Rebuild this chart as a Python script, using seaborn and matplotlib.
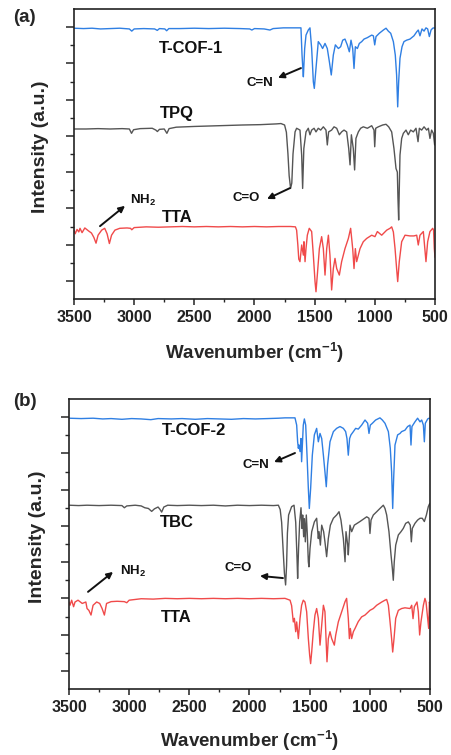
import numpy as np
import pandas as pd
import matplotlib
matplotlib.use("Agg")
import matplotlib.pyplot as plt
import seaborn as sns

# ---------------- data (wavenumber cm-1, offset intensity a.u.) ----------------
a_tcof1 = [(3500, 7.47), (3420, 7.46), (3350, 7.47), (3280, 7.45), (3200, 7.46), (3120, 7.47),
           (3040, 7.45), (3020, 7.39), (3000, 7.45), (2920, 7.46), (2830, 7.45), (2808, 7.41),
           (2790, 7.46), (2745, 7.45), (2730, 7.40), (2712, 7.46), (2620, 7.46), (2500, 7.47),
           (2380, 7.46), (2250, 7.47), (2120, 7.46), (2040, 7.45), (2022, 7.42), (2000, 7.46),
           (1920, 7.45), (1872, 7.42), (1845, 7.46), (1760, 7.48), (1705, 7.48), (1614, 7.48),
           (1605, 6.73), (1600, 6.45), (1594, 6.13), (1583, 6.91), (1572, 7.28), (1553, 7.42),
           (1539, 7.48), (1525, 6.91), (1511, 5.99), (1503, 5.81), (1489, 6.36), (1470, 7.10),
           (1450, 7.01), (1434, 6.91), (1414, 7.05), (1395, 6.91), (1378, 6.55), (1362, 6.18),
           (1345, 6.73), (1328, 7.01), (1303, 6.91), (1284, 6.96), (1267, 7.14), (1248, 7.17),
           (1229, 7.01), (1212, 6.82), (1198, 7.14), (1184, 6.91), (1173, 6.36), (1162, 6.96),
           (1145, 6.91), (1129, 7.05), (1109, 7.10), (1090, 7.17), (1062, 7.21), (1026, 7.28),
           (1012, 7.26), (1001, 7.01), (990, 7.24), (963, 7.33), (929, 7.42), (907, 7.47),
           (888, 7.39), (868, 7.33), (846, 7.10), (830, 6.73), (819, 6.18), (810, 5.30),
           (802, 5.99), (791, 6.64), (774, 6.96), (758, 7.10), (736, 7.14), (708, 7.17),
           (675, 7.26), (652, 7.37), (639, 7.42), (625, 7.26), (608, 7.45), (591, 7.39),
           (575, 7.48), (561, 7.45), (547, 7.24), (533, 7.42), (519, 7.47), (508, 7.48), (500, 7.47)]

a_tpq = [(3500, 4.69), (3400, 4.69), (3300, 4.70), (3200, 4.69), (3100, 4.70), (3040, 4.69),
         (3022, 4.57), (3005, 4.67), (2950, 4.70), (2850, 4.71), (2820, 4.66), (2807, 4.62),
         (2790, 4.68), (2750, 4.69), (2728, 4.57), (2710, 4.70), (2650, 4.74), (2500, 4.76),
         (2300, 4.78), (2100, 4.80), (1950, 4.81), (1820, 4.83), (1780, 4.84), (1750, 4.80),
         (1735, 4.60), (1722, 4.00), (1712, 3.40), (1700, 3.05), (1690, 3.20), (1680, 4.00),
         (1663, 4.61), (1650, 4.71), (1622, 4.66), (1608, 3.97), (1600, 3.05), (1590, 4.15),
         (1572, 4.61), (1553, 4.71), (1539, 4.53), (1525, 4.66), (1505, 4.71), (1489, 4.61),
         (1470, 4.71), (1450, 4.66), (1428, 4.75), (1406, 4.66), (1395, 4.25), (1384, 4.61),
         (1359, 4.66), (1339, 4.75), (1317, 4.71), (1295, 4.53), (1276, 4.61), (1256, 4.66),
         (1234, 4.61), (1217, 4.15), (1206, 3.70), (1195, 4.53), (1179, 4.15), (1168, 3.56),
         (1157, 4.43), (1137, 4.61), (1118, 4.71), (1096, 4.75), (1062, 4.71), (1026, 4.78),
         (1007, 4.66), (1001, 4.20), (993, 4.71), (971, 4.75), (935, 4.80), (907, 4.82),
         (885, 4.75), (860, 4.61), (841, 4.15), (824, 3.60), (813, 3.50), (808, 2.80),
         (802, 2.18), (797, 3.00), (791, 3.97), (777, 4.43), (763, 4.57), (741, 4.66),
         (722, 4.53), (702, 4.66), (680, 4.61), (658, 4.71), (641, 4.34), (630, 4.71),
         (611, 4.66), (591, 4.75), (569, 4.66), (555, 4.71), (542, 4.43), (528, 4.66),
         (514, 4.57), (503, 4.25), (500, 4.30)]

a_tta = [(3500, 1.90), (3490, 1.80), (3475, 1.92), (3460, 1.85), (3450, 1.95), (3433, 1.83),
         (3410, 1.96), (3380, 1.88), (3355, 1.82), (3335, 1.70), (3317, 1.54), (3300, 1.76),
         (3270, 1.90), (3245, 1.95), (3225, 1.80), (3206, 1.53), (3188, 1.76), (3160, 1.90),
         (3120, 1.95), (3060, 1.96), (3030, 1.95), (3020, 1.91), (3000, 1.97), (2900, 1.99),
         (2800, 1.98), (2700, 1.99), (2600, 2.00), (2500, 1.99), (2400, 2.00), (2300, 1.99),
         (2200, 2.00), (2100, 1.99), (2000, 2.00), (1900, 1.99), (1800, 2.00), (1700, 2.00),
         (1660, 1.99), (1650, 1.90), (1640, 1.50), (1632, 1.10), (1622, 1.03), (1608, 1.49),
         (1594, 1.21), (1589, 1.58), (1580, 1.03), (1572, 1.39), (1561, 1.76), (1545, 1.95),
         (1525, 1.86), (1511, 1.21), (1497, 0.48), (1489, 0.20), (1478, 0.66), (1461, 1.39),
         (1442, 1.72), (1428, 1.39), (1414, 0.66), (1400, 1.39), (1386, 1.76), (1373, 1.21),
         (1359, 0.25), (1345, 0.84), (1331, 1.12), (1317, 0.84), (1295, 0.66), (1276, 1.03),
         (1248, 1.39), (1220, 1.67), (1201, 1.95), (1184, 1.39), (1173, 0.84), (1162, 1.39),
         (1151, 1.03), (1137, 1.21), (1123, 1.39), (1096, 1.58), (1068, 1.67), (1026, 1.76),
         (999, 1.72), (979, 1.86), (943, 1.76), (901, 1.90), (874, 1.95), (860, 1.99),
         (846, 1.85), (832, 1.39), (819, 0.84), (810, 0.48), (797, 1.03), (777, 1.58),
         (749, 1.76), (708, 1.74), (675, 1.74), (652, 1.76), (639, 1.49), (625, 1.76),
         (597, 1.86), (575, 1.03), (561, 1.58), (542, 1.86), (519, 1.95), (512, 1.90),
         (506, 1.40), (500, 1.15)]

b_tcof2 = [(3500, 7.47), (3400, 7.46), (3300, 7.47), (3220, 7.45), (3150, 7.46), (3060, 7.44),
           (2980, 7.46), (2900, 7.45), (2820, 7.43), (2760, 7.46), (2650, 7.45), (2560, 7.46),
           (2450, 7.44), (2350, 7.46), (2250, 7.45), (2150, 7.44), (2050, 7.46), (1950, 7.45),
           (1850, 7.46), (1760, 7.47), (1705, 7.48), (1622, 7.48), (1608, 7.28), (1600, 6.82),
           (1594, 6.64), (1589, 6.73), (1580, 6.55), (1572, 6.91), (1567, 6.27), (1553, 7.28),
           (1544, 7.45), (1533, 7.28), (1522, 6.45), (1511, 5.53), (1503, 4.98), (1492, 5.53),
           (1478, 6.45), (1461, 7.01), (1442, 7.19), (1428, 6.82), (1414, 7.05), (1400, 6.91),
           (1386, 6.45), (1373, 5.99), (1362, 5.58), (1351, 6.18), (1331, 6.82), (1303, 7.10),
           (1276, 7.19), (1248, 7.24), (1220, 7.19), (1201, 7.10), (1190, 6.91), (1179, 6.45),
           (1168, 6.91), (1157, 7.01), (1137, 7.10), (1118, 7.19), (1096, 7.17), (1068, 7.28),
           (1040, 7.42), (1018, 7.33), (1007, 7.05), (996, 7.28), (979, 7.33), (952, 7.42),
           (916, 7.48), (896, 7.42), (874, 7.33), (846, 7.10), (830, 6.64), (819, 5.99),
           (810, 4.98), (802, 5.81), (791, 6.73), (769, 7.01), (749, 7.05), (736, 7.10),
           (708, 7.14), (686, 7.24), (666, 7.28), (658, 6.73), (650, 7.24), (625, 7.37),
           (603, 7.47), (583, 7.37), (569, 7.42), (555, 7.28), (547, 6.82), (539, 7.33),
           (519, 7.45), (508, 7.47), (500, 7.46)]

b_tbc = [(3500, 5.07), (3420, 5.06), (3350, 5.07), (3250, 5.06), (3150, 5.07), (3060, 5.06),
         (3040, 5.00), (3020, 5.05), (2950, 5.07), (2900, 5.05), (2870, 5.00), (2840, 4.98),
         (2813, 4.90), (2790, 4.97), (2760, 5.02), (2745, 4.96), (2730, 4.88), (2712, 5.02),
         (2680, 5.07), (2600, 5.06), (2500, 5.07), (2400, 5.06), (2300, 5.07), (2200, 5.05),
         (2100, 5.07), (2000, 5.06), (1900, 5.07), (1800, 5.06), (1760, 5.07), (1745, 4.95),
         (1733, 4.60), (1720, 3.80), (1710, 3.20), (1700, 2.87), (1692, 3.40), (1685, 4.30),
         (1675, 4.80), (1650, 5.03), (1630, 5.07), (1616, 4.60), (1605, 3.60), (1600, 3.05),
         (1592, 3.90), (1583, 4.61), (1572, 5.00), (1564, 4.43), (1558, 4.80), (1550, 4.20),
         (1544, 4.70), (1536, 4.06), (1528, 4.80), (1520, 4.30), (1511, 3.51), (1506, 3.37),
         (1497, 3.88), (1483, 4.34), (1461, 4.61), (1442, 4.71), (1428, 4.15), (1422, 4.34),
         (1411, 3.97), (1400, 4.52), (1384, 4.34), (1373, 4.06), (1359, 3.65), (1345, 4.15),
         (1328, 4.52), (1303, 4.71), (1276, 4.80), (1256, 4.89), (1240, 4.66), (1220, 4.15),
         (1206, 3.51), (1198, 4.34), (1184, 3.97), (1179, 3.70), (1165, 4.52), (1151, 4.34),
         (1129, 4.52), (1082, 4.62), (1026, 4.75), (1007, 4.71), (999, 4.29), (990, 4.66),
         (971, 4.80), (943, 4.89), (916, 4.98), (888, 5.07), (874, 4.98), (860, 4.80),
         (841, 4.34), (824, 3.70), (813, 3.33), (805, 3.00), (797, 3.51), (785, 3.97),
         (763, 4.25), (741, 4.34), (722, 4.43), (702, 4.57), (680, 4.61), (664, 4.52),
         (655, 4.06), (647, 4.43), (625, 4.57), (603, 4.66), (583, 4.71), (564, 4.71),
         (547, 4.62), (530, 4.80), (514, 5.03), (505, 5.10), (500, 5.12)]

b_tta = [(3500, 2.40), (3492, 2.31), (3478, 2.45), (3462, 2.27), (3450, 2.40), (3425, 2.45),
         (3390, 2.36), (3360, 2.40), (3350, 2.22), (3335, 2.17), (3317, 2.04), (3300, 2.31),
         (3270, 2.40), (3245, 2.36), (3225, 2.22), (3206, 2.04), (3188, 2.36), (3150, 2.41),
         (3100, 2.42), (3040, 2.41), (3020, 2.38), (3000, 2.45), (2900, 2.49), (2800, 2.48),
         (2700, 2.50), (2600, 2.49), (2500, 2.50), (2400, 2.49), (2300, 2.50), (2200, 2.49),
         (2100, 2.50), (2000, 2.49), (1900, 2.50), (1800, 2.49), (1705, 2.50), (1663, 2.45),
         (1650, 2.30), (1636, 1.85), (1627, 1.95), (1616, 1.58), (1608, 1.85), (1594, 1.39),
         (1580, 1.95), (1567, 2.31), (1553, 2.45), (1539, 2.40), (1525, 2.13), (1511, 1.39),
         (1500, 0.93), (1492, 0.70), (1483, 1.03), (1470, 1.58), (1456, 2.04), (1442, 2.22),
         (1428, 1.95), (1414, 1.21), (1400, 1.76), (1386, 2.31), (1373, 2.13), (1364, 1.39),
         (1356, 0.75), (1345, 1.39), (1331, 1.58), (1317, 1.39), (1295, 1.21), (1284, 1.48),
         (1262, 1.85), (1234, 2.13), (1206, 2.41), (1193, 2.50), (1179, 1.95), (1170, 1.39),
         (1162, 1.67), (1151, 1.39), (1137, 1.58), (1123, 1.67), (1096, 1.86), (1068, 1.99),
         (1040, 2.04), (999, 2.17), (971, 2.22), (943, 2.31), (901, 2.40), (874, 2.45),
         (860, 2.47), (846, 2.31), (832, 1.85), (819, 1.39), (810, 1.02), (799, 1.39),
         (785, 1.95), (763, 2.17), (736, 2.22), (708, 2.24), (666, 2.22), (652, 2.31),
         (641, 1.94), (630, 2.27), (608, 2.40), (597, 2.13), (586, 1.49), (575, 1.85),
         (555, 2.31), (542, 2.50), (533, 2.40), (525, 2.13), (511, 1.67), (505, 2.40), (500, 2.30)]

x_ticks = [3500, 3000, 2500, 2000, 1500, 1000, 500]
panel_letters = ["(a)", "(b)"]
series_names_a = ["T-COF-1", "TPQ", "TTA"]
series_names_b = ["T-COF-2", "TBC", "TTA"]

BLUE = "#2f7fe3"
GRAY = "#555555"
RED = "#f04a4a"

# ---------------- style ----------------
sns.set_theme(style="ticks")
plt.rcParams['font.family'] = ['Liberation Sans', 'DejaVu Sans']
plt.rcParams['font.weight'] = 'bold'
plt.rcParams['mathtext.fontset'] = 'custom'
plt.rcParams['mathtext.rm'] = 'Liberation Sans:bold'
plt.rcParams['mathtext.bf'] = 'Liberation Sans:bold'
plt.rcParams['mathtext.it'] = 'Liberation Sans:bold:italic'

fig = plt.figure(figsize=(4.52, 7.55), dpi=100)
W, H = 452.0, 755.0
ax_a = fig.add_axes([74 / W, 1 - 299 / H, 361 / W, 290 / H])
ax_b = fig.add_axes([69 / W, 1 - 689 / H, 361 / W, 290 / H])


def draw(ax, pts, color):
    df = pd.DataFrame(pts, columns=["wn", "y"])
    sns.lineplot(data=df, x="wn", y="y", ax=ax, color=color, lw=1.0,
                 estimator=None, sort=False)


def style_axes(ax, ylabel_x, xlabel_y):
    ax.set_xlim(3500, 500)
    ax.set_ylim(0, 8)
    ax.set_xticks(x_ticks)
    ax.set_xticks(np.arange(500, 3501, 250), minor=True)
    ax.set_yticks(np.arange(0.5, 8, 1.0))
    ax.set_yticks(np.arange(1, 8, 1.0), minor=True)
    ax.set_yticklabels([])
    for s in ax.spines.values():
        s.set_visible(True)
        s.set_linewidth(1.2)
        s.set_color("#222222")
    ax.tick_params(axis="x", which="major", direction="out", length=4, width=1.1,
                   labelsize=11.5, pad=4, colors="#222222")
    ax.tick_params(axis="x", which="minor", direction="out", length=2.5, width=1.0)
    ax.tick_params(axis="y", which="major", direction="out", length=5.5, width=1.1)
    ax.tick_params(axis="y", which="minor", direction="out", length=3, width=1.0)
    for lab in ax.get_xticklabels():
        lab.set_fontweight("bold")
    ax.set_xlabel(r"Wavenumber (cm$^{\mathbf{-1}}$)", fontsize=13.5, fontweight="bold")
    ax.set_ylabel("Intensity (a.u.)", fontsize=14, fontweight="bold")
    ax.xaxis.set_label_coords(0.5, xlabel_y)
    ax.yaxis.set_label_coords(ylabel_x, 0.524)


def label(ax, x, y, s, size=12, ha="center"):
    ax.text(x, y, s, fontsize=size, fontweight="bold", ha=ha, va="center", color="#111111")


def arrow(ax, tail, head):
    ax.annotate("", xy=head, xytext=tail,
                arrowprops=dict(arrowstyle="-|>", color="#111111", lw=1.4,
                                mutation_scale=9, shrinkA=0, shrinkB=0))


# panel (a)
draw(ax_a, a_tcof1, BLUE)
draw(ax_a, a_tpq, GRAY)
draw(ax_a, a_tta, RED)
style_axes(ax_a, -0.069, -0.145)
label(ax_a, 2528, 6.92, series_names_a[0])
label(ax_a, 2644, 5.13, series_names_a[1])
label(ax_a, 2644, 2.26, series_names_a[2])
label(ax_a, 1954, 5.96, "C=N", size=9.5)
arrow(ax_a, (1614, 6.37), (1805, 6.10))
label(ax_a, 2071, 2.79, "C=O", size=9.5)
arrow(ax_a, (1705, 3.06), (1896, 2.76))
label(ax_a, 3035, 2.73, "NH$_2$", size=9.5, ha="left")
arrow(ax_a, (3284, 2.01), (3076, 2.57))

# panel (b)
draw(ax_b, b_tcof2, BLUE)
draw(ax_b, b_tbc, GRAY)
draw(ax_b, b_tta, RED)
style_axes(ax_b, -0.065, -0.136)
label(ax_b, 2461, 7.12, series_names_b[0])
label(ax_b, 2603, 4.58, series_names_b[1])
label(ax_b, 2611, 1.96, series_names_b[2])
label(ax_b, 1946, 6.18, "C=N", size=9.5)
arrow(ax_b, (1622, 6.51), (1796, 6.26))
label(ax_b, 2096, 3.34, "C=O", size=9.5)
arrow(ax_b, (1722, 3.06), (1913, 3.12))
label(ax_b, 3076, 3.23, "NH$_2$", size=9.5, ha="left")
arrow(ax_b, (3342, 2.68), (3134, 3.23))

fig.text(24 / W, 1 - 18 / H, panel_letters[0], fontsize=13.5, fontweight="bold",
         ha="center", va="center")
fig.text(25 / W, 1 - 402 / H, panel_letters[1], fontsize=13.5, fontweight="bold",
         ha="center", va="center")

fig.savefig("out.png", dpi=100)
